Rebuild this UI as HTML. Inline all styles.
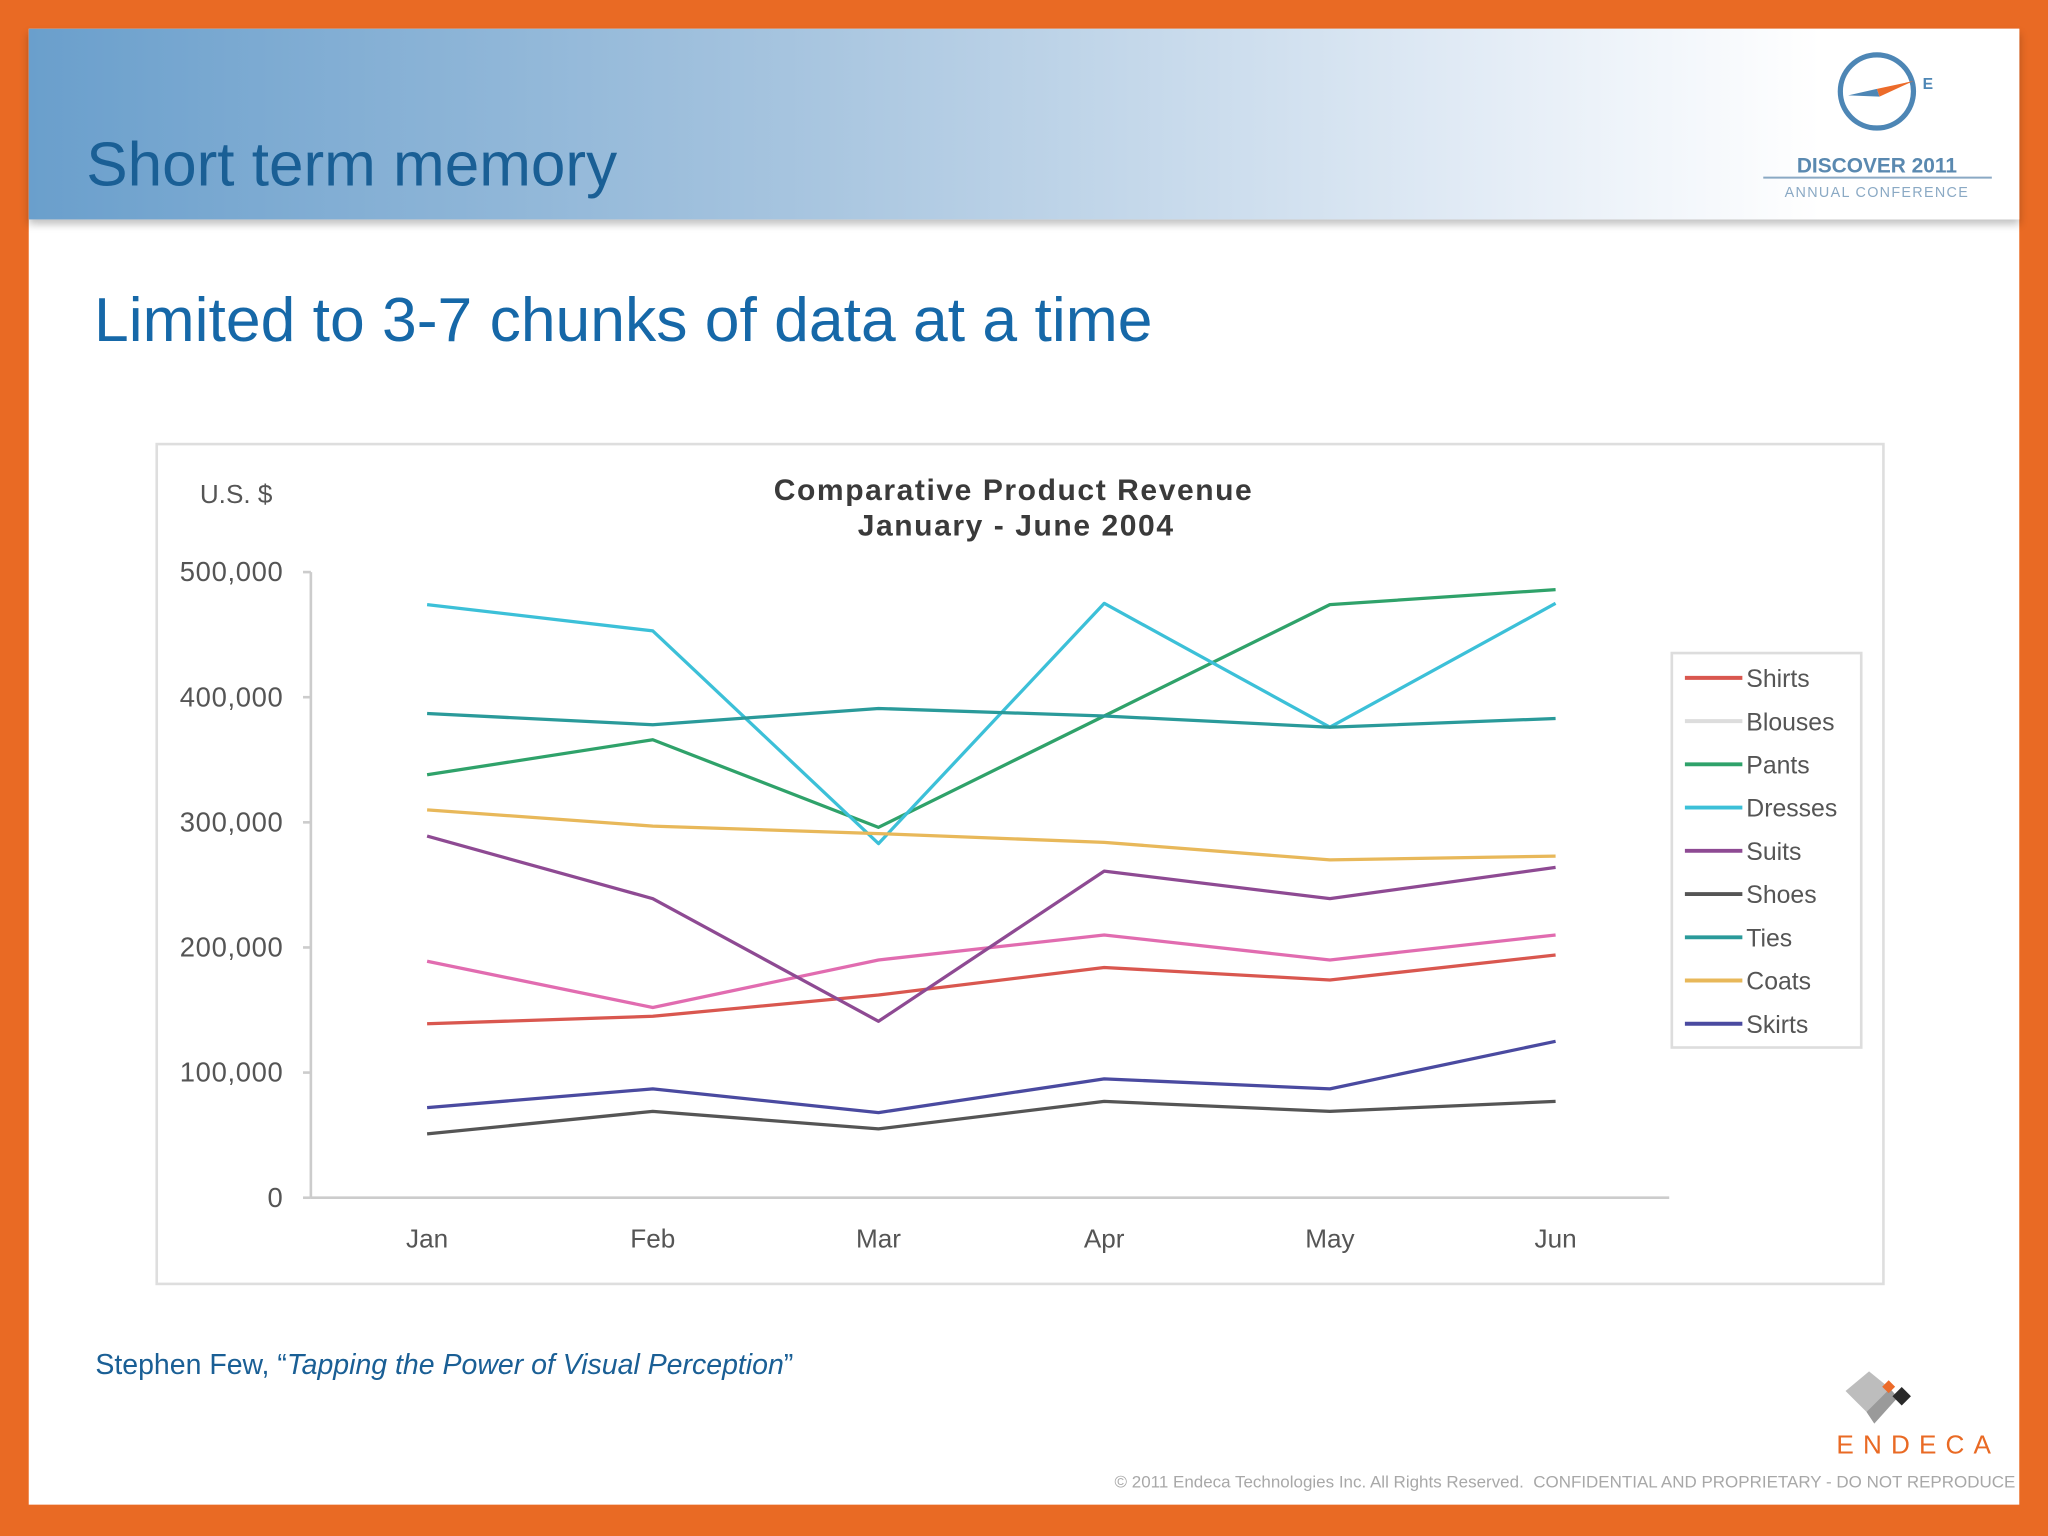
<!DOCTYPE html>
<html><head><meta charset="utf-8"><style>
html,body{margin:0;padding:0;width:2048px;height:1536px;overflow:hidden;background:#e96a24}
#s{position:absolute;left:0;top:0;width:1568px;height:1176px;transform:scale(1.306122);transform-origin:0 0;font-family:"Liberation Sans",sans-serif}
.a{position:absolute}
</style></head><body>
<div id="s">
<div class="a" style="left:22px;top:22px;width:1524px;height:1130px;background:#fff"></div>
<div class="a" style="left:22px;top:22px;width:1524px;height:146px;background:linear-gradient(90deg,#6a9fcc 0%,#a9c6e0 40%,#e6eef7 75%,#fff 90%);box-shadow:0 4px 6px rgba(0,0,0,0.25)"></div>
<div class="a" style="left:66px;top:99px;font-size:47.5px;color:#1a5f95">Short term memory</div>
<div class="a" style="left:72px;top:218px;font-size:47.8px;color:#1668a8">Limited to 3-7 chunks of data at a time</div>
<svg class="a" style="left:1340px;top:30px" width="200" height="130">
<circle cx="97" cy="40" r="28" fill="none" stroke="#4d86b5" stroke-width="4"/>
<polygon points="75,43 97,38 99,44" fill="#4d86b5"/><polygon points="97,38 125,32 99,44" fill="#ec6b2a"/>
<text x="132" y="38" font-size="12" font-weight="bold" fill="#4d86b5">E</text>
<text x="97" y="102" text-anchor="middle" font-size="16" font-weight="bold" fill="#5a89b0">DISCOVER 2011</text>
<line x1="10" y1="106" x2="185" y2="106" stroke="#8aa9c4" stroke-width="1.5"/>
<text x="97" y="121" text-anchor="middle" font-size="11" fill="#8aa9c4" letter-spacing="1">ANNUAL CONFERENCE</text>
</svg>
<svg class="a" id="chart" style="left:0;top:0" width="1568" height="1176"></svg>
<div class="a" style="left:73px;top:1032px;font-size:21.8px;color:#1a5f95">Stephen Few, “<i>Tapping the Power of Visual Perception</i>”</div>
<svg class="a" style="left:1395px;top:1045px" width="150" height="75">
<polygon points="18,20 36,5 52,18 34,36" fill="#bdbdbd"/><polygon points="34,36 52,18 58,25 40,45" fill="#9a9a9a"/>
<rect x="48" y="13" width="7" height="7" fill="#ec6b2a" transform="rotate(45 51 16)"/>
<rect x="56" y="19" width="10" height="10" fill="#2a2a2a" transform="rotate(45 61 24)"/>
<text x="11" y="68" font-size="20" fill="#e96a24" letter-spacing="7">ENDECA</text>
</svg>
<div class="a" style="right:25px;top:1127px;font-size:13px;color:#a8a8a8;white-space:nowrap">© 2011 Endeca Technologies Inc. All Rights Reserved.&nbsp; CONFIDENTIAL AND PROPRIETARY - DO NOT REPRODUCE</div>
</div>
<script>
const months=["Jan","Feb","Mar","Apr","May","Jun"];
const ticks=[0,100000,200000,300000,400000,500000];
const seriesNames=["Shirts","Blouses","Pants","Dresses","Suits","Shoes","Ties","Coats","Skirts"];
const shirts=[139000,145000,162000,184000,174000,194000];
const blouses=[189000,152000,190000,210000,190000,210000];
const pants=[338000,366000,296000,385000,474000,486000];
const dresses=[474000,453000,283000,475000,376000,475000];
const suits=[289000,239000,141000,261000,239000,264000];
const shoes=[51000,69000,55000,77000,69000,77000];
const ties=[387000,378000,391000,385000,376000,383000];
const coats=[310000,297000,291000,284000,270000,273000];
const skirts=[72000,87000,68000,95000,87000,125000];
const seriesData=[shirts,blouses,pants,dresses,suits,shoes,ties,coats,skirts];
const colors=["#d9574f","#e16cb0","#2fa26a","#3cc0d8","#8e4a93","#555555","#2a9a9a","#e8b85a","#4a4aa0"];
const legendColors=["#d9574f","#dddddd","#2fa26a","#3cc0d8","#8e4a93","#555555","#2a9a9a","#e8b85a","#4a4aa0"];
const NS="http://www.w3.org/2000/svg";
const svg=document.getElementById("chart");
const X=i=>327+i*172.8, Y=v=>917-v/500000*479;
function mk(t,a,txt){const e=document.createElementNS(NS,t);for(const k in a)e.setAttribute(k,a[k]);if(txt!=null)e.textContent=txt;svg.appendChild(e);return e;}
let e=mk("rect",{x:120,y:340,width:1322,height:643,fill:"#fff",stroke:"#dedede","stroke-width":2});


e=mk("text",{x:776,y:383,"text-anchor":"middle","font-size":23,"font-weight":"bold",fill:"#3a3a3a","letter-spacing":1.2},"Comparative Product Revenue");


e=mk("text",{x:778,y:410,"text-anchor":"middle","font-size":23,"font-weight":"bold",fill:"#3a3a3a","letter-spacing":1.2},"January - June 2004");


e=mk("text",{x:153,y:385,"font-size":20,fill:"#555"},"U.S. $");


e=mk("line",{x1:238,y1:438,x2:238,y2:917,stroke:"#ccc","stroke-width":2});


e=mk("line",{x1:238,y1:917,x2:1278,y2:917,stroke:"#ccc","stroke-width":2});


ticks.forEach(t=>{
 e=mk("line",{x1:232,y1:Y(t),x2:238,y2:Y(t),stroke:"#ccc","stroke-width":2});
 
 
 e=mk("text",{x:217,y:Y(t)+7,"text-anchor":"end","font-size":21,fill:"#555","letter-spacing":0.5},t.toLocaleString("en-US"));
 
 
});
months.forEach((m,i)=>{
 e=mk("text",{x:X(i),y:955,"text-anchor":"middle","font-size":20,fill:"#555"},m);
 
 
});
seriesData.forEach((d,s)=>{
 e=mk("polyline",{points:d.map((v,i)=>X(i)+","+Y(v)).join(" "),fill:"none",stroke:colors[s],"stroke-width":2.5,"stroke-linejoin":"round"});
 
 
});
e=mk("rect",{x:1280,y:500,width:145,height:302,fill:"#fff",stroke:"#ddd","stroke-width":2});


seriesNames.forEach((n,s)=>{
 const y=519+s*33.1;
 e=mk("line",{x1:1290,y1:y,x2:1334,y2:y,stroke:legendColors[s],"stroke-width":3});
 
 
 e=mk("text",{x:1337,y:y+7,"font-size":19,fill:"#555"},n);
 
 
});
</script>
</body></html>
